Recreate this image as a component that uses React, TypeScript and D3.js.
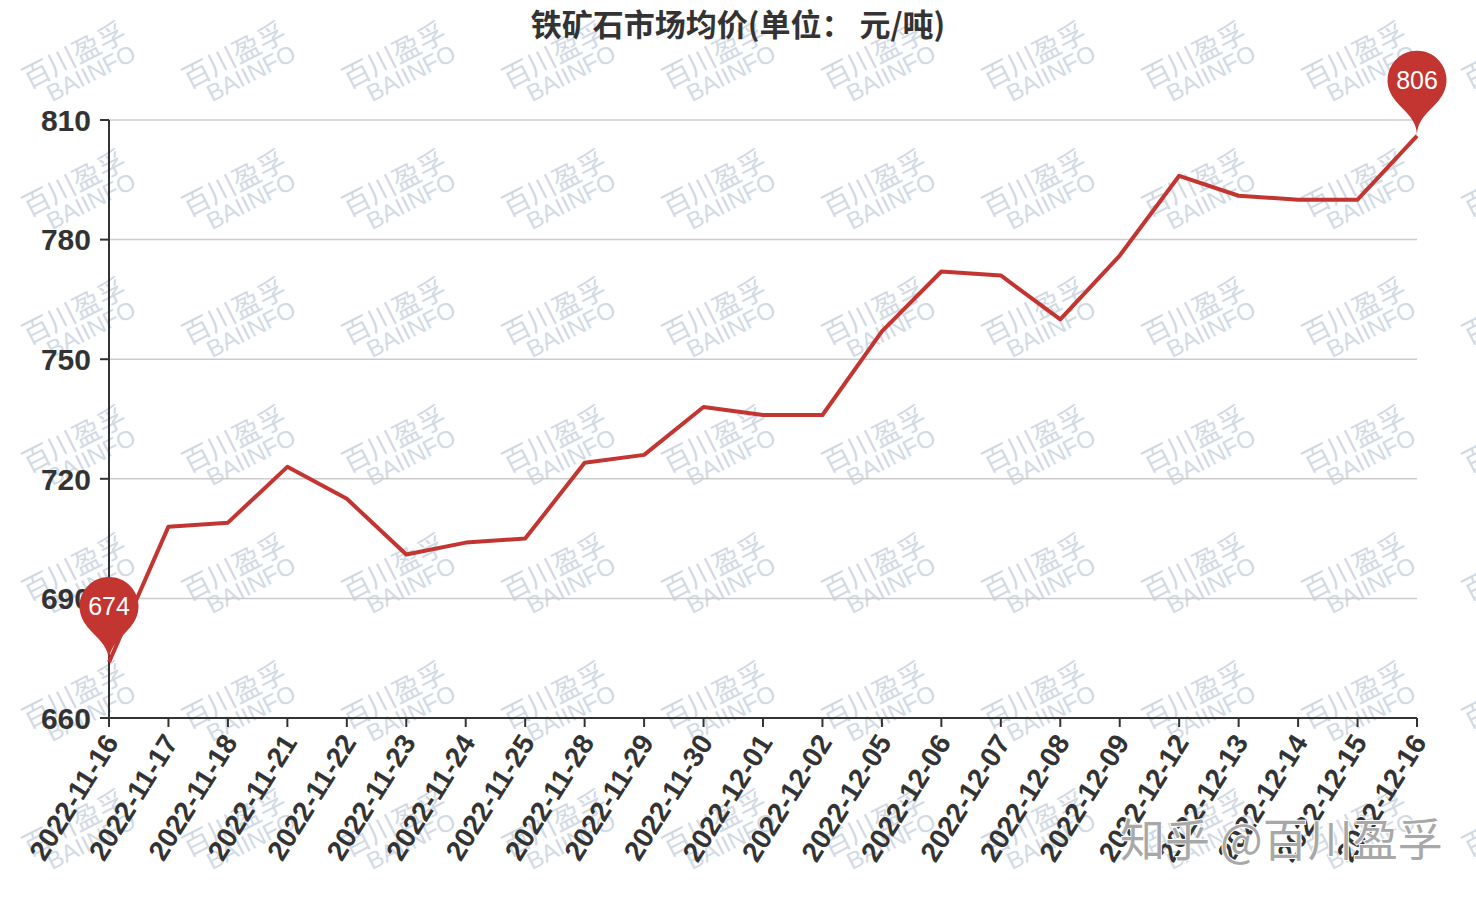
import React from "react";
import * as d3 from "d3";

const categories = [
  "2022-11-16", "2022-11-17", "2022-11-18", "2022-11-21", "2022-11-22", "2022-11-23",
  "2022-11-24", "2022-11-25", "2022-11-28", "2022-11-29", "2022-11-30", "2022-12-01",
  "2022-12-02", "2022-12-05", "2022-12-06", "2022-12-07", "2022-12-08", "2022-12-09",
  "2022-12-12", "2022-12-13", "2022-12-14", "2022-12-15", "2022-12-16",
];
const prices = [
  674, 708, 709, 723, 715, 701, 704, 705, 724, 726, 738, 736, 736, 757, 772, 771, 760,
  776, 796, 791, 790, 790, 806,
];
const yTicks = [660, 690, 720, 750, 780, 810];
const title = "铁矿石市场均价(单位：  元/吨)";
const markIdx = [0, 22];

const W = 1476, H = 900;
const left = 109, right = 1417, top = 120, bottom = 718;
const RED = "#c23531";

function pinPath(x: number, y: number, r: number, h: number) {
  const dy = (r * r) / (h - r);
  const cy = y - h + r + dy;
  const ang = Math.asin(dy / r);
  const dx = Math.cos(ang) * r;
  const tanX = Math.sin(ang), tanY = Math.cos(ang);
  const cp = r * 0.6, cp2 = r * 0.7;
  return {
    cy,
    d: `M${x - dx},${cy + dy} A${r},${r} 0 1 1 ${x + dx},${cy + dy} C${x + dx - tanX * cp},${cy + dy + tanY * cp} ${x},${y - cp2} ${x},${y} C${x},${y - cp2} ${x - dx + tanX * cp},${cy + dy + tanY * cp} ${x - dx},${cy + dy} Z`,
  };
}

export default function App() {
  const x = d3.scalePoint<string>().domain(categories).range([left, right]);
  const y = d3.scaleLinear().domain([660, 810]).range([bottom, top]);
  const line = d3
    .line<number>()
    .x((_, i) => x(categories[i]) as number)
    .y((d) => y(d));

  const wm: JSX.Element[] = [];
  for (let j = 0; j < 7; j++) {
    for (let i = 0; i < 10; i++) {
      const cx = 79 + 160 * i, cy = 65 + 128 * j;
      wm.push(
        <g key={`w${i}-${j}`} transform={`translate(${cx},${cy}) rotate(-27)`} fill="#c9d3df" fillOpacity={0.85}>
          <text x={0} y={-1} textAnchor="middle" fontSize={28} fontFamily="'Noto Sans CJK SC', sans-serif">百川盈孚</text>
          <text x={7} y={21} textAnchor="middle" fontSize={24} fontFamily="'Liberation Sans', Arial, sans-serif">BAIINFO</text>
        </g>
      );
    }
  }

  const font = "'Liberation Sans', 'Noto Sans CJK SC', Arial, sans-serif";

  return (
    <svg width={W} height={H} style={{ position: "absolute", left: 0, top: 0, background: "#fff" }}>
      <rect width={W} height={H} fill="#fff" />
      {wm}
      {yTicks.map((t) => (
        <g key={t}>
          {t !== 660 && <line x1={left} x2={right} y1={y(t)} y2={y(t)} stroke="#ccc" strokeWidth={1.5} />}
          <line x1={left - 9} x2={left} y1={y(t)} y2={y(t)} stroke="#333" strokeWidth={2} />
          <text x={left - 18} y={y(t)} dy="0.36em" textAnchor="end" fontSize={30} fontWeight="bold" fill="#333" fontFamily={font}>
            {t}
          </text>
        </g>
      ))}
      <line x1={left} x2={left} y1={top} y2={bottom} stroke="#333" strokeWidth={2} />
      <line x1={left} x2={right} y1={bottom} y2={bottom} stroke="#333" strokeWidth={2} />
      {categories.map((c) => {
        const px = x(c) as number;
        return (
          <g key={c}>
            <line x1={px} x2={px} y1={bottom} y2={bottom + 9} stroke="#333" strokeWidth={2} />
            <text
              transform={`translate(${px + 2},${bottom + 19}) rotate(-58)`}
              textAnchor="end"
              dy="0.36em"
              fontSize={28}
              fontWeight="bold"
              fill="#333"
              fontFamily={font}
            >
              {c}
            </text>
          </g>
        );
      })}
      <path d={line(prices) || ""} fill="none" stroke={RED} strokeWidth={4} strokeLinejoin="round" />
      {markIdx.map((i) => {
        const px = x(categories[i]) as number;
        const py = y(prices[i]);
        const p = pinPath(px, py, 29.5, 98);
        return (
          <g key={`m${i}`}>
            <path d={p.d} fill={RED} />
            <text x={px} y={p.cy} dy="0.36em" textAnchor="middle" fontSize={25} fill="#fff" fontFamily={font}>
              {prices[i]}
            </text>
          </g>
        );
      })}
      <text x={738} y={36} textAnchor="middle" fontSize={31} fontWeight="bold" fill="#333" fontFamily="'Noto Sans CJK SC', sans-serif">
        {title}
      </text>
      <text
        x={1120}
        y={857}
        fontSize={45}
        fill="#a8a8a8"
        stroke="#fff"
        strokeWidth={2}
        paintOrder="stroke"
        fontFamily="'Noto Sans CJK SC', sans-serif"
      >
        知乎 @百川盈孚
      </text>
    </svg>
  );
}
